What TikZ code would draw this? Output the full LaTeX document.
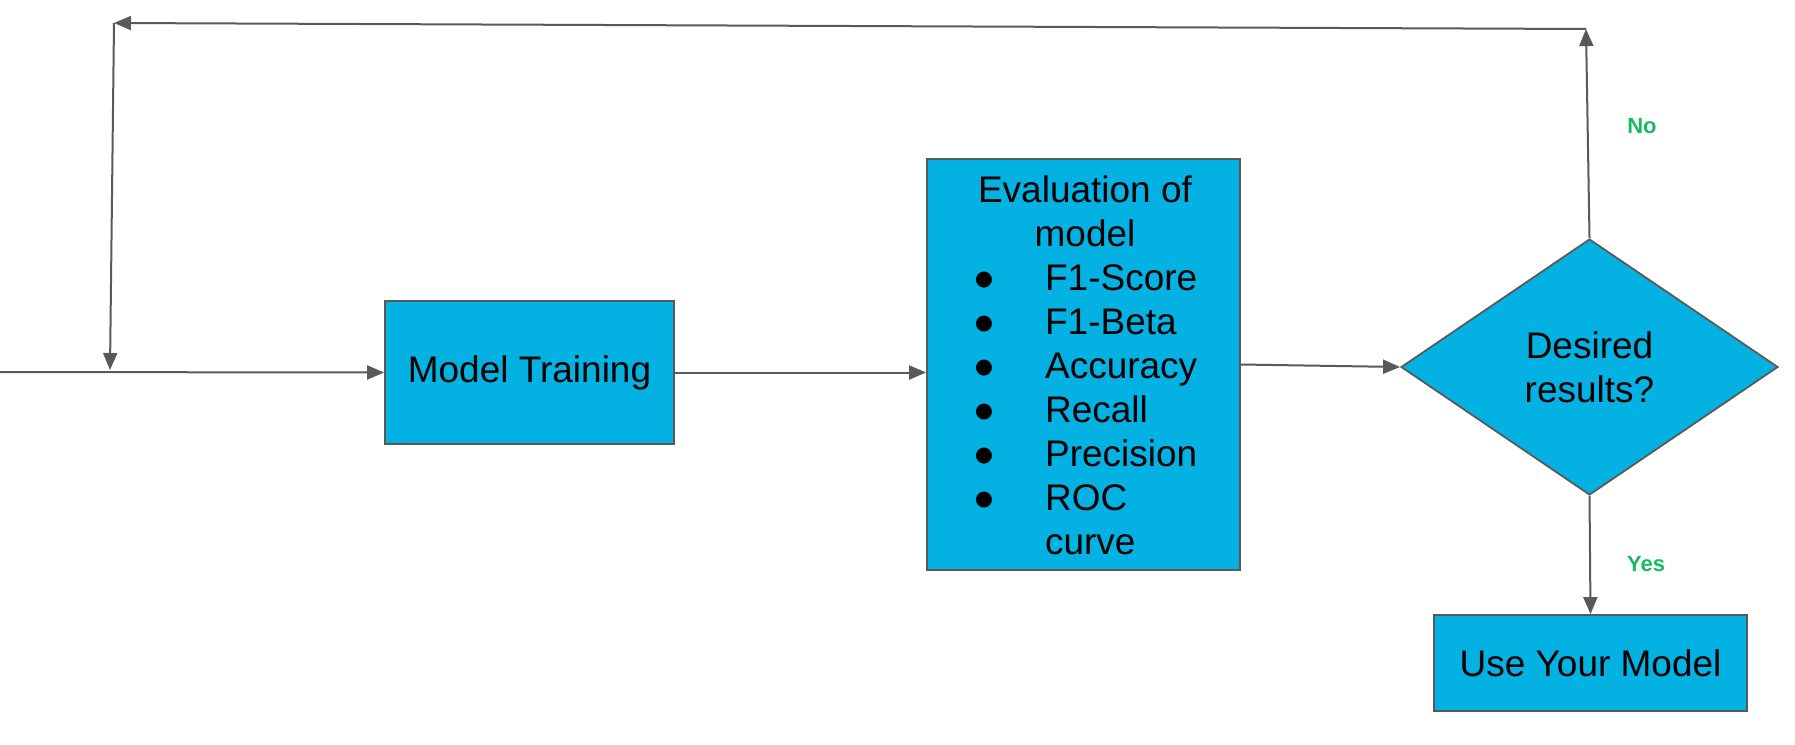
\documentclass[tikz,border=0pt]{standalone}
\usepackage{fontspec}
\setmainfont{Liberation Sans}
\usetikzlibrary{shapes.geometric,arrows.meta}
\definecolor{boxfill}{RGB}{3,178,226}
\definecolor{edge}{RGB}{89,89,89}
\definecolor{labgreen}{RGB}{22,187,96}
\tikzset{
  box/.style={draw=edge, line width=1.8pt, fill=boxfill, inner sep=0pt, font=\fontsize{37}{44}\selectfont},
  decision/.style={diamond, draw=edge, line width=1.8pt, fill=boxfill, inner sep=0pt, font=\fontsize{37}{44}\selectfont, align=center},
  conn/.style={draw=edge, line width=2pt, -{Triangle[length=17pt,width=14pt]}},
  answer/.style={text=labgreen, font=\bfseries\fontsize{22}{26}\selectfont},
}
\begin{document}
\begin{tikzpicture}[x=1pt,y=-1pt]
\useasboundingbox (0,0) rectangle (1795,744);
% nodes
\node[box, minimum width=289pt, minimum height=143pt] (mt) at (529.5,372.5) {Model Training};
\node[box, minimum width=313pt, minimum height=411pt] (eval) at (1083.5,364.5) {};
\node[font=\fontsize{37}{44}\selectfont, inner sep=0pt] (evaltext) at (1085,370) {%
  \begin{tabular}{@{}l@{\hspace{50pt}}l@{}}
  \multicolumn{2}{@{}c@{}}{Evaluation of}\\
  \multicolumn{2}{@{}c@{}}{model}\\
  ● & F1-Score\\
  ● & F1-Beta\\
  ● & Accuracy\\
  ● & Recall\\
  ● & Precision\\
  ● & ROC\\
    & curve
  \end{tabular}};
\node[decision, minimum width=377pt, minimum height=256pt] (dec) at (1589.5,367) {Desired\\results?};
\node[box, minimum width=313pt, minimum height=96pt] (use) at (1590.5,663) {Use Your Model};
\node[answer] (no) at (1642,126) {No};
\node[answer] (yes) at (1646,564) {Yes};
% free ends
\coordinate (in) at (0,372);
\coordinate (tr) at (1586,29);
\coordinate (tl) at (114,23);
\coordinate (jn) at (110,370);
% connectors
\draw[conn] (in) -- (mt.west);
\draw[conn] (mt.east) -- (mt.east -| eval.west);
\draw[conn] (eval.east) -- (dec.west);
\draw[conn] (dec.south) -- (use.north);
\draw[conn] (dec.north) -- (tr);
\draw[conn] (tr) -- (tl);
\draw[conn] (tl) -- (jn);
\end{tikzpicture}
\end{document}
